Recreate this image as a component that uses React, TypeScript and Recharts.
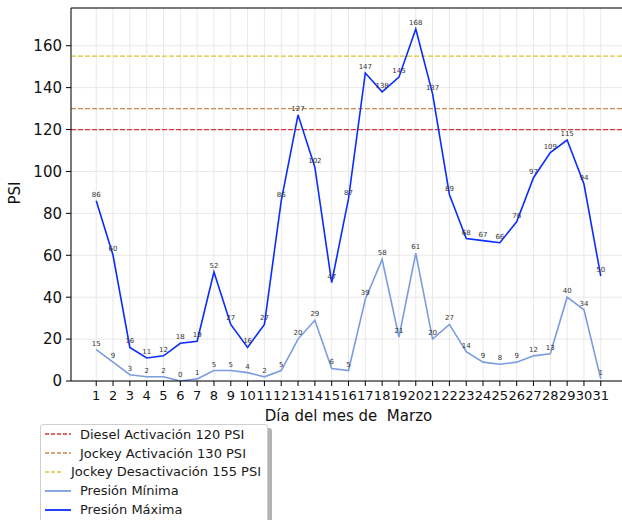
import React from 'react';
import { LineChart, Line, XAxis, YAxis, CartesianGrid, ReferenceLine, LabelList } from 'recharts';

const days = [1,2,3,4,5,6,7,8,9,10,11,12,13,14,15,16,17,18,19,20,21,22,23,24,25,26,27,28,29,30,31];
const presionMaxima = [86,60,16,11,12,18,19,52,27,16,27,86,127,102,47,87,147,138,145,168,137,89,68,67,66,76,97,109,115,94,50];
const presionMinima = [15,9,3,2,2,0,1,5,5,4,2,5,20,29,6,5,39,58,21,61,20,27,14,9,8,9,12,13,40,34,1];
const yTicks = [0,20,40,60,80,100,120,140,160];
const thresholds = [
  { name: 'Diesel Activación 120 PSI', value: 120, color: '#d8373c' },
  { name: 'Jockey Activación 130 PSI', value: 130, color: '#c98c50' },
  { name: 'Jockey Desactivación 155 PSI', value: 155, color: '#d9c62e' },
];
const maxColor = '#0a2dff';
const minColor = '#7b9de0';

const data = days.map((d, i) => ({ day: d, max: presionMaxima[i], min: presionMinima[i] }));

const FONT = '"DejaVu Sans", sans-serif';

const LegendBox = () => {
  const items = [
    ...thresholds.map(t => ({ name: t.name, color: t.color, dashed: true })),
    { name: 'Presión Mínima', color: minColor, dashed: false },
    { name: 'Presión Máxima', color: maxColor, dashed: false },
  ];
  return (
    <div style={{
      position: 'absolute', left: 40, top: 424,
      background: '#fff', border: '1px solid #cfcfcf', borderRadius: 3,
      boxShadow: '4px 4px 0 #b3b3b3', padding: '0px 6px 6px 4px', width: 216,
      fontFamily: FONT, fontSize: 13, color: '#1a1a1a', height: 110, whiteSpace: 'nowrap',
    }}>
      {items.map(it => (
        <div key={it.name} style={{ display: 'flex', alignItems: 'center', height: 18.8 }}>
          <svg width={26} height={10} style={{ marginRight: 9 }}>
            <line x1={0} x2={26} y1={5} y2={5} stroke={it.color} strokeWidth={it.dashed ? 1.3 : 1.8}
              strokeDasharray={it.dashed ? '4 2' : undefined} />
          </svg>
          <span>{it.name}</span>
        </div>
      ))}
    </div>
  );
};

export default function App() {
  return (
    <div style={{ position: 'fixed', left: 0, top: 0, width: 622, height: 520, overflow: 'hidden', background: '#fff' }}>
      <LineChart width={660} height={520} data={data} margin={{ top: 8, right: 34, bottom: 0, left: 0 }}>
        <CartesianGrid stroke="#e8e8e8" strokeWidth={1} />
        <XAxis type="number" dataKey="day" domain={[-0.5, 32.5]} ticks={days} interval={0}
          allowDataOverflow height={139} stroke="#000" tickSize={5} tickMargin={5}
          tick={{ fill: '#111', fontSize: 13, fontFamily: FONT }} tickLine={{ stroke: '#000' }}
          axisLine={{ stroke: '#000' }}
          label={{ value: 'Día del mes de\u00a0 Marzo', position: 'insideTop', offset: 29, fill: '#111', fontSize: 15, fontFamily: FONT }} />
        <YAxis type="number" domain={[0, 178]} ticks={yTicks} allowDataOverflow width={71}
          stroke="#000" tickSize={5} tickMargin={4}
          tick={{ fill: '#111', fontSize: 15, fontFamily: FONT }}
          label={{ value: 'PSI', angle: -90, position: 'insideLeft', offset: 15, fill: '#111', fontSize: 15, fontFamily: FONT, dy: 10 }} />
        <ReferenceLine y={178} stroke="#000" strokeWidth={1} />
        {thresholds.map(t => (
          <ReferenceLine key={t.name} y={t.value} stroke={t.color} strokeWidth={1.3} strokeDasharray="5 2" />
        ))}
        <Line type="linear" dataKey="min" name="Presión Mínima" stroke={minColor} strokeWidth={1.6} dot={false} isAnimationActive={false}>
          <LabelList dataKey="min" position="top" offset={4} fontSize={7} fill="#333" fontFamily={FONT} />
        </Line>
        <Line type="linear" dataKey="max" name="Presión Máxima" stroke={maxColor} strokeWidth={1.6} dot={false} isAnimationActive={false}>
          <LabelList dataKey="max" position="top" offset={4} fontSize={7} fill="#333" fontFamily={FONT} />
        </Line>
      </LineChart>
      <LegendBox />
    </div>
  );
}
